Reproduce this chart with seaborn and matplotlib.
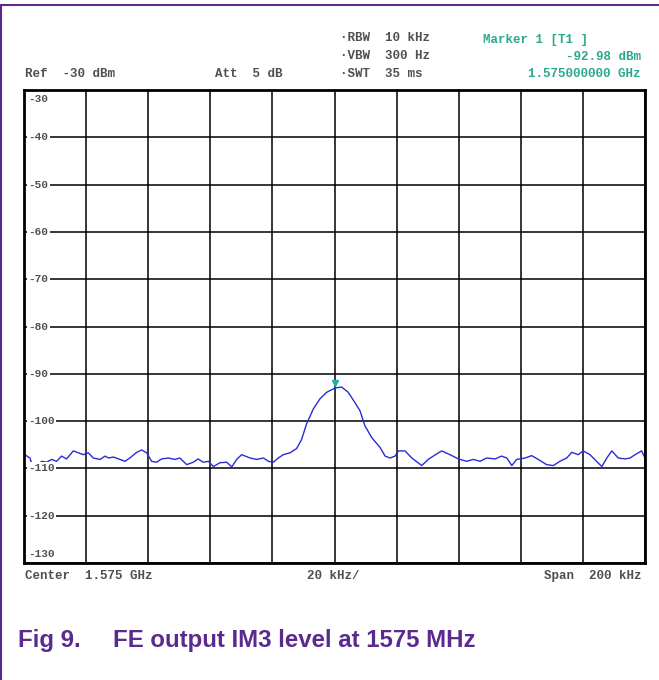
import numpy as np
import pandas as pd
import matplotlib.pyplot as plt
import seaborn as sns
from matplotlib.lines import Line2D

# trace (offset from center in kHz, level in dBm)
freq_khz = [-99.7, -98.1, -97.0, -95.9, -94.3, -92.7, -91.1, -89.5, -87.9, -86.3,
            -84.1, -82.5, -80.9, -79.3, -77.7, -75.5, -73.9, -72.8, -71.2, -69.1,
            -67.5, -65.9, -63.7, -62.1, -60.5, -58.9, -57.3, -55.7, -53.5, -51.4,
            -49.8, -47.6, -45.5, -43.9, -42.3, -40.6, -39.0, -36.9, -34.7, -33.1,
            -31.5, -29.9, -27.2, -25.1, -22.9, -21.3, -19.7, -18.1, -16.5, -14.3,
            -12.2, -10.6, -9.0, -6.8, -4.7, -2.5, 0.2, 2.3, 4.4, 6.1,
            8.2, 9.8, 12.0, 14.7, 16.3, 17.9, 19.5, 20.6, 22.7, 24.9,
            28.1, 30.2, 31.8, 34.5, 37.2, 39.9, 42.6, 44.7, 46.9, 49.0,
            51.7, 53.8, 55.5, 57.1, 58.7, 61.4, 63.5, 65.6, 68.3, 70.5,
            72.6, 74.8, 76.4, 78.5, 80.1, 82.3, 84.4, 86.1, 87.7, 89.3,
            91.4, 93.6, 95.2, 96.8, 98.9, 100.0]
level_dbm = [-107.1, -107.8, -109.9, -109.6, -108.5, -108.7, -108.1, -108.5, -107.4, -108.0,
             -106.3, -106.7, -107.1, -106.7, -107.8, -108.1, -107.4, -107.8, -107.6, -108.1,
             -108.5, -107.8, -106.6, -106.1, -106.7, -108.5, -108.7, -108.0, -107.8, -108.1,
             -107.8, -109.2, -108.7, -108.0, -108.7, -108.5, -109.6, -108.8, -108.7, -109.7,
             -108.1, -107.1, -107.8, -108.1, -107.8, -108.5, -108.7, -107.8, -107.1, -106.7,
             -105.8, -103.9, -100.6, -97.4, -95.3, -93.9, -93.0, -92.8, -93.9, -95.6,
             -97.8, -101.0, -103.5, -105.6, -107.4, -107.8, -107.4, -106.3, -106.3, -107.8,
             -109.4, -108.1, -107.4, -106.3, -107.1, -108.0, -108.5, -108.1, -108.5, -107.8,
             -108.0, -107.4, -107.8, -109.4, -108.1, -107.8, -107.3, -108.1, -109.2, -109.4,
             -108.5, -107.8, -106.6, -107.1, -106.3, -107.1, -108.5, -109.6, -107.8, -106.3,
             -107.8, -108.0, -107.8, -107.1, -106.3, -107.8]
y_labels = [-30, -40, -50, -60, -70, -80, -90, -100, -110, -120, -130]
marker_freq = 0.0
marker_level = -92.98

df = pd.DataFrame({"freq": freq_khz, "level": level_dbm})

sns.set_style("white")
W, H = 659, 680
fig = plt.figure(figsize=(W / 100, H / 100), dpi=100)

def fx(px):
    return px / W

def fy(py):
    return 1 - py / H

ax = fig.add_axes([fx(24), fy(563), fx(645) - fx(24), fy(90) - fy(563)])
sns.lineplot(data=df, x="freq", y="level", ax=ax, color="#2b2bd6", lw=1.0)
ax.plot([marker_freq], [marker_level + 1.0], marker="v", ms=5, color="#1fb0a8", ls="none")

ax.set_xlim(-100, 100)
ax.set_ylim(-130, -30)
ax.set_xticks(np.arange(-100, 101, 20))
ax.set_yticks(y_labels)
ax.grid(True, color="black", lw=1.1)
ax.tick_params(left=False, bottom=False, labelleft=False, labelbottom=False)
ax.set_xlabel("")
ax.set_ylabel("")
for s in ax.spines.values():
    s.set_color("black")
    s.set_linewidth(2)

mono = dict(family="Liberation Mono", fontsize=9, color="#505050", fontweight="bold")
for v in y_labels:
    yy = v
    if v == -30:
        yy = -32
    elif v == -130:
        yy = -128
    ax.text(-98.5, yy, str(v), va="center", ha="left",
            bbox=dict(facecolor="white", edgecolor="none", pad=1.0),
            **dict(mono, fontsize=8))

# header and footer annotations
fig.text(fx(25), fy(74), "Ref  -30 dBm", va="center", **mono)
fig.text(fx(215), fy(74), "Att  5 dB", va="center", **mono)
fig.text(fx(340), fy(38), "\u00b7RBW  10 kHz", va="center", **mono)
fig.text(fx(340), fy(56), "\u00b7VBW  300 Hz", va="center", **mono)
fig.text(fx(340), fy(74), "\u00b7SWT  35 ms", va="center", **mono)
teal = dict(mono, color="#2aa88c")
fig.text(fx(483), fy(40), "Marker 1 [T1 ]", va="center", **teal)
fig.text(fx(641), fy(57), "-92.98 dBm", va="center", ha="right", **teal)
fig.text(fx(641), fy(74), "1.575000000 GHz", va="center", ha="right", **teal)
fig.text(fx(25), fy(576), "Center  1.575 GHz", va="center", **mono)
fig.text(fx(307), fy(576), "20 kHz/", va="center", **mono)
fig.text(fx(641), fy(576), "Span  200 kHz", va="center", ha="right", **mono)

purple = "#5b2a8e"
fig.text(fx(18), fy(640), "Fig 9.", va="center", family="Liberation Sans",
         fontweight="bold", fontsize=17.3, color=purple)
fig.text(fx(113), fy(640), "FE output IM3 level at 1575 MHz", va="center",
         family="Liberation Sans", fontweight="bold", fontsize=17.3, color=purple)

# page frame lines
fig.add_artist(Line2D([fx(1), 1], [fy(5), fy(5)], color=purple, lw=1.5))
fig.add_artist(Line2D([fx(1), fx(1)], [0, fy(5)], color=purple, lw=1.5))

plt.savefig("out.png", dpi=100)
